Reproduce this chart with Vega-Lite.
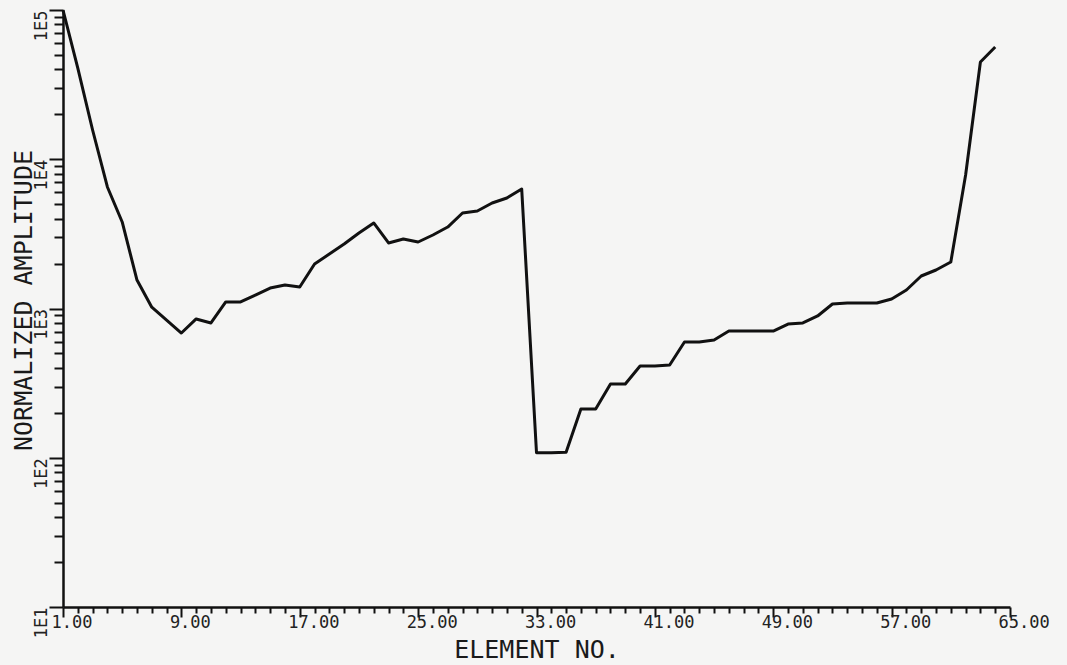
{
  "$schema": "https://vega.github.io/schema/vega-lite/v6.json",
  "width": 947,
  "height": 597,
  "autosize": {"type": "none"},
  "padding": {"left": 63, "top": 10, "right": 57, "bottom": 58},
  "background": "#f5f5f4",
  "config": {
    "view": {"stroke": null},
    "font": "DejaVu Sans Mono"
  },
  "data": {
    "values": [
      {"element": 1, "amp": 100000},
      {"element": 2, "amp": 40800},
      {"element": 3, "amp": 15700},
      {"element": 4, "amp": 6520},
      {"element": 5, "amp": 3800},
      {"element": 6, "amp": 1550},
      {"element": 7, "amp": 1020},
      {"element": 8, "amp": 837},
      {"element": 9, "amp": 685},
      {"element": 10, "amp": 851},
      {"element": 11, "amp": 800},
      {"element": 12, "amp": 1107},
      {"element": 13, "amp": 1107},
      {"element": 14, "amp": 1230},
      {"element": 15, "amp": 1371},
      {"element": 16, "amp": 1437},
      {"element": 17, "amp": 1393},
      {"element": 18, "amp": 1987},
      {"element": 19, "amp": 2317},
      {"element": 20, "amp": 2704},
      {"element": 21, "amp": 3205},
      {"element": 22, "amp": 3741},
      {"element": 23, "amp": 2748},
      {"element": 24, "amp": 2924},
      {"element": 25, "amp": 2790},
      {"element": 26, "amp": 3107},
      {"element": 27, "amp": 3514},
      {"element": 28, "amp": 4362},
      {"element": 29, "amp": 4498},
      {"element": 30, "amp": 5093},
      {"element": 31, "amp": 5500},
      {"element": 32, "amp": 6320},
      {"element": 33, "amp": 108},
      {"element": 34, "amp": 108},
      {"element": 35, "amp": 109},
      {"element": 36, "amp": 212},
      {"element": 37, "amp": 212},
      {"element": 38, "amp": 312},
      {"element": 39, "amp": 312},
      {"element": 40, "amp": 412},
      {"element": 41, "amp": 412},
      {"element": 42, "amp": 418},
      {"element": 43, "amp": 597},
      {"element": 44, "amp": 597},
      {"element": 45, "amp": 615},
      {"element": 46, "amp": 706},
      {"element": 47, "amp": 706},
      {"element": 48, "amp": 706},
      {"element": 49, "amp": 706},
      {"element": 50, "amp": 787},
      {"element": 51, "amp": 800},
      {"element": 52, "amp": 891},
      {"element": 53, "amp": 1072},
      {"element": 54, "amp": 1088},
      {"element": 55, "amp": 1088},
      {"element": 56, "amp": 1088},
      {"element": 57, "amp": 1158},
      {"element": 58, "amp": 1331},
      {"element": 59, "amp": 1651},
      {"element": 60, "amp": 1811},
      {"element": 61, "amp": 2050},
      {"element": 62, "amp": 7840},
      {"element": 63, "amp": 44850},
      {"element": 64, "amp": 56500}
    ]
  },
  "mark": {"type": "line", "color": "#111111", "strokeWidth": 3, "strokeJoin": "round"},
  "encoding": {
    "x": {
      "field": "element",
      "type": "quantitative",
      "scale": {"domain": [1, 65], "nice": false, "zero": false},
      "axis": {
        "title": "ELEMENT NO.",
        "values": [1,2,3,4,5,6,7,8,9,10,11,12,13,14,15,16,17,18,19,20,21,22,23,24,25,26,27,28,29,30,31,32,33,34,35,36,37,38,39,40,41,42,43,44,45,46,47,48,49,50,51,52,53,54,55,56,57,58,59,60,61,62,63,64,65],
        "labelExpr": "(datum.value - 1) % 8 === 0 ? format(datum.value, '.2f') : ''",
        "labelOverlap": false,
        "labelFlush": false,
        "labelAlign": "left",
        "labelOffset": -12,
        "labelBaseline": "top",
        "labelPadding": -3,
        "labelFont": "DejaVu Sans Mono",
        "labelFontSize": 17,
        "labelColor": "#222222",
        "grid": false,
        "domainColor": "#111111",
        "domainWidth": 2.5,
        "tickColor": "#111111",
        "tickWidth": 2,
        "tickSize": {"condition": {"test": "(datum.value - 1) % 8 === 0", "value": 10}, "value": 6},
        "titleFont": "DejaVu Sans Mono",
        "titleFontSize": 25,
        "titleFontWeight": "normal",
        "titleColor": "#1a1a1a",
        "titleBaseline": "middle",
        "titleY": 42
      }
    },
    "y": {
      "field": "amp",
      "type": "quantitative",
      "scale": {"type": "log", "domain": [10, 100000], "nice": false},
      "axis": {
        "title": "NORMALIZED AMPLITUDE",
        "values": [10,20,30,40,50,60,70,80,90,100,200,300,400,500,600,700,800,900,1000,2000,3000,4000,5000,6000,7000,8000,9000,10000,20000,30000,40000,50000,60000,70000,80000,90000,100000],
        "labelExpr": "indexof([10,100,1000,10000,100000], datum.value) >= 0 ? '1E' + format(log(datum.value) / LN10, '.0f') : ''",
        "labelOverlap": false,
        "labelFlush": false,
        "labelAngle": 270,
        "labelAlign": "right",
        "labelBaseline": "alphabetic",
        "labelPadding": 3,
        "labelFont": "DejaVu Sans Mono",
        "labelFontSize": 17,
        "labelColor": "#222222",
        "grid": false,
        "domainColor": "#111111",
        "domainWidth": 2.5,
        "tickColor": "#111111",
        "tickWidth": 2,
        "tickSize": {"condition": {"test": "indexof([10,100,1000,10000,100000], datum.value) >= 0", "value": 14}, "value": 9},
        "titleFont": "DejaVu Sans Mono",
        "titleFontSize": 25,
        "titleFontWeight": "normal",
        "titleColor": "#1a1a1a",
        "titleAngle": 270,
        "titleBaseline": "middle",
        "titleAlign": "center",
        "titleX": -40,
        "titleY": 290
      }
    }
  }
}
